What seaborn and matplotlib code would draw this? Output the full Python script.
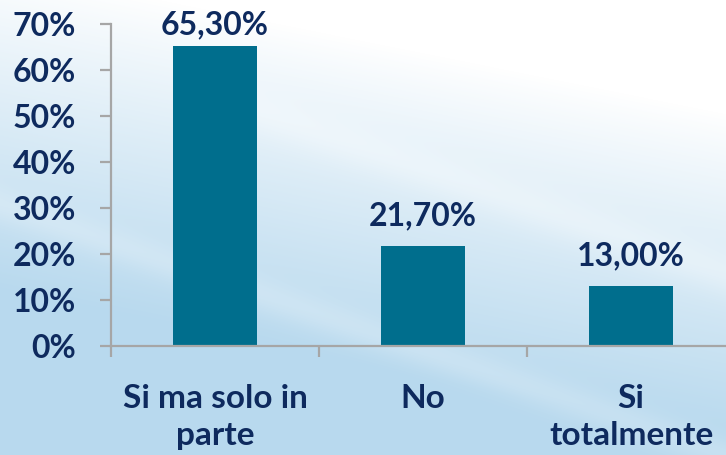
import numpy as np
import pandas as pd
import matplotlib
matplotlib.use("Agg")
import matplotlib.pyplot as plt
import seaborn as sns
from matplotlib.colors import to_rgb

categories = ["Si ma solo in\nparte", "No", "Si\ntotalmente"]
values = [65.30, 21.70, 13.00]
value_labels = ["65,30%", "21,70%", "13,00%"]
y_ticks = [0, 10, 20, 30, 40, 50, 60, 70]
y_tick_labels = ["0%", "10%", "20%", "30%", "40%", "50%", "60%", "70%"]

NAVY = "#0E2A5E"
BAR = "#006E8D"
GRAY = "#A6A6A6"

sns.set_theme(style="white")
plt.rcParams["font.family"] = ["Lato", "DejaVu Sans"]

W, H = 726, 455
fig = plt.figure(figsize=(W / 100, H / 100), dpi=100)

# background gradient (decoration)
bg = fig.add_axes([0, 0, 1, 1], zorder=-10)
yy, xx = np.mgrid[0:1:H * 1j, 0:1:W * 1j]
t = np.clip(yy * 1.4 - xx * 0.45 + 0.1, 0, 1) ** 0.9
d = yy - 0.55 * xx
streak = 0.3 * np.exp(-((d - 0.05) / 0.05) ** 2) * (xx > 0.3) + 0.2 * np.exp(-((d - 0.45) / 0.04) ** 2)
t = np.clip(t * (1 - streak), 0, 1)
white = np.array(to_rgb("#FFFFFF"))
blue = np.array(to_rgb("#B8D9EE"))
img = white[None, None, :] * (1 - t[..., None]) + blue[None, None, :] * t[..., None]
bg.imshow(img, aspect="auto", extent=[0, 1, 0, 1], origin="upper")
bg.axis("off")

ax = fig.add_axes([111 / W, 109 / H, 624 / W, 322 / H])
ax.patch.set_alpha(0)
df = pd.DataFrame({"cat": categories, "val": values})
sns.barplot(data=df, x="cat", y="val", color=BAR, width=0.4, saturation=1,
            linewidth=0, ax=ax)

ax.set_xlim(-0.5, 2.5)
ax.set_ylim(0, 70)
ax.set_yticks(y_ticks)
ax.set_yticklabels(y_tick_labels)
ax.set_xlabel("")
ax.set_ylabel("")

ymax = ax.get_ylim()[1]
for i, (v, lab) in enumerate(zip(values, value_labels)):
    # labels near the top are pushed down to stay inside the figure
    off = 16 if (ymax - v) > 8 else 6
    ax.annotate(lab, (i, v), xytext=(0, off), textcoords="offset pixels",
                ha="center", va="bottom", fontsize=23, fontweight="bold", color=NAVY)

for s in ["top", "right"]:
    ax.spines[s].set_visible(False)
for s in ["left", "bottom"]:
    ax.spines[s].set_color(GRAY)
    ax.spines[s].set_linewidth(1.6)

ax.tick_params(axis="y", direction="out", length=8, width=1.6, color=GRAY,
               pad=17, labelsize=23, labelcolor=NAVY, left=True)
for lbl in ax.get_yticklabels():
    lbl.set_fontweight("bold")

ax.set_xticks([0, 1, 2])
ax.set_xticklabels(categories)
ax.set_xticks([-0.5, 0.5, 1.5, 2.5], minor=True)
ax.tick_params(axis="x", which="major", length=0, pad=27, labelsize=24, labelcolor=NAVY)
ax.tick_params(axis="x", which="minor", direction="out", length=8, width=1.6, color=GRAY, bottom=True)
for lbl in ax.get_xticklabels():
    lbl.set_fontweight("bold")
    lbl.set_linespacing(1.35)

fig.savefig("out.png", dpi=100)
